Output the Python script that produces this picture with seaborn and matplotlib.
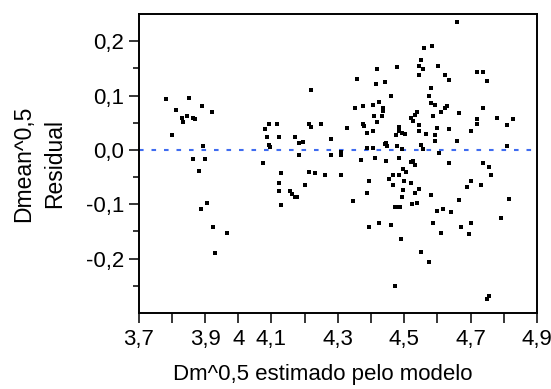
import matplotlib
matplotlib.use("Agg")
import matplotlib.pyplot as plt
import seaborn as sns
import pandas as pd
from matplotlib.ticker import FixedLocator, FixedFormatter

# ---- data ----
x_fit = [
    3.781, 3.799, 3.812, 3.829, 3.834, 3.847, 3.853, 3.865, 3.870, 3.865,
    3.883, 3.890, 3.895, 3.900, 3.889, 3.907, 3.920, 3.925, 3.931, 3.967,
    4.075, 4.082, 4.088, 4.093, 4.093, 4.096, 4.118, 4.123, 4.130, 4.124,
    4.124, 4.130, 4.155, 4.161, 4.171, 4.178, 4.172, 4.183, 4.195, 4.184,
    4.201, 4.214, 4.214, 4.220, 4.220, 4.231, 4.250, 4.262, 4.280, 4.280,
    4.310, 4.311, 4.310, 4.328,
    4.347, 4.352, 4.358, 4.370, 4.377, 4.377, 4.379, 4.388, 4.389, 4.389,
    4.394, 4.394, 4.406, 4.407, 4.407, 4.410, 4.413, 4.414, 4.419, 4.419,
    4.424, 4.425, 4.432, 4.435, 4.436, 4.442, 4.445, 4.443, 4.444, 4.448,
    4.455, 4.460, 4.461, 4.467, 4.467, 4.472, 4.472, 4.476, 4.479, 4.479,
    4.480, 4.484, 4.484, 4.485, 4.492, 4.486, 4.485, 4.491, 4.492, 4.497,
    4.499, 4.494, 4.497, 4.502, 4.506, 4.521, 4.519, 4.520, 4.524, 4.527,
    4.532, 4.538, 4.527, 4.531, 4.533, 4.539, 4.543, 4.545, 4.545, 4.543,
    4.551, 4.545, 4.551, 4.556, 4.550, 4.557, 4.560, 4.566,
    4.575, 4.575, 4.580, 4.581, 4.583, 4.581, 4.587, 4.588, 4.593, 4.593,
    4.593, 4.599, 4.599, 4.603, 4.605, 4.611, 4.611, 4.617, 4.623, 4.623,
    4.629, 4.634, 4.636, 4.636, 4.641, 4.659, 4.660, 4.666, 4.666, 4.672,
    4.690, 4.695, 4.702, 4.702, 4.702, 4.719, 4.719, 4.720, 4.732, 4.737,
    4.738, 4.738, 4.748, 4.750, 4.755, 4.756, 4.762, 4.780, 4.792, 4.810,
    4.810, 4.816, 4.827,
]
residual = [
    0.093, 0.027, 0.074, 0.059, 0.052, 0.063, 0.096, 0.059, 0.056, -0.017,
    -0.039, 0.081, 0.008, -0.017, -0.109, -0.097, 0.070, -0.141, -0.189, -0.152,
    -0.024, 0.038, 0.023, 0.048, 0.009, 0.006, 0.048, 0.023, -0.042, -0.061,
    -0.076, -0.101, -0.076, -0.082, -0.086, -0.087, 0.023, 0.012, 0.015, -0.010,
    -0.065, 0.048, -0.040, 0.111, 0.042, -0.043, 0.048, -0.046, 0.020, -0.010,
    -0.003, -0.010, -0.047, 0.041,
    -0.094, 0.077, 0.130, -0.018, 0.081, 0.048, 0.044, -0.080, 0.031, 0.004,
    -0.058, -0.142, 0.004, 0.035, 0.083, 0.063, -0.014, 0.122, 0.148, 0.052,
    0.088, -0.134, 0.063, 0.078, 0.071, 0.010, 0.013, 0.125, -0.021, 0.008,
    -0.054, -0.138, 0.100, -0.046, -0.065, -0.251, -0.105, 0.028, 0.152, 0.008,
    -0.105, 0.043, -0.046, -0.014, -0.086, -0.105, 0.034, -0.164, 0.002, -0.073,
    -0.057, 0.032, -0.036, 0.030, -0.041, -0.061, 0.059, -0.023, -0.100, 0.053,
    0.064, 0.069, -0.021, -0.027, -0.079, -0.097, -0.071, 0.045, 0.034, 0.155,
    0.009, 0.138, -0.188, 0.002, 0.165, 0.148, 0.187, 0.029,
    -0.206, 0.100, 0.114, 0.087, 0.191, -0.083, 0.063, -0.134, 0.082, 0.016,
    0.027, 0.041, -0.112, 0.155, -0.006, -0.152, 0.070, -0.108, 0.137, 0.078,
    0.081, 0.129, 0.038, -0.024, -0.115, 0.235, 0.016, 0.067, -0.093, -0.141,
    -0.068, -0.155, 0.034, -0.057, -0.134, 0.143, 0.048, 0.056, -0.064, 0.143,
    0.078, -0.024, 0.126, -0.275, -0.268, -0.031, -0.046, 0.059, -0.126, 0.008,
    0.045, -0.090, 0.056,
]

x_ticks = [3.7, 3.8, 3.9, 4.0, 4.1, 4.2, 4.3, 4.4, 4.5, 4.6, 4.7, 4.8, 4.9]
x_tick_labels = ["3,7", "", "3,9", "4", "4,1", "", "4,3", "", "4,5", "", "4,7", "", "4,9"]
y_ticks = [-0.2, -0.1, 0.0, 0.1, 0.2]
y_tick_labels = ["-0,2", "-0,1", "0,0", "0,1", "0,2"]
y_minor_ticks = [-0.25, -0.15, -0.05, 0.05, 0.15]
ref_level = 0.0

x_label = "Dm^0,5 estimado pelo modelo"
y_label = "Dmean^0,5\nResidual"

# ---- plot ----
sns.set_style("ticks")
plt.rcParams["font.family"] = ["Liberation Sans", "DejaVu Sans"]

df = pd.DataFrame({"x": x_fit, "y": residual})

fig = plt.figure(figsize=(5.51, 3.89), dpi=100)
ax = fig.add_axes([0.2517, 0.1954, 0.7229, 0.7686])

ax.axhline(ref_level, color="#3f6cf0", lw=1.5, dashes=(2.2, 3.8), zorder=1)
sns.scatterplot(data=df, x="x", y="y", ax=ax, marker="s", s=10,
                color="black", linewidth=0, zorder=3)

ax.set_xlim(3.7, 4.9)
ax.set_ylim(-0.30, 0.25)

ax.xaxis.set_major_locator(FixedLocator(x_ticks))
ax.xaxis.set_major_formatter(FixedFormatter(x_tick_labels))
ax.yaxis.set_major_locator(FixedLocator(y_ticks))
ax.yaxis.set_major_formatter(FixedFormatter(y_tick_labels))
ax.yaxis.set_minor_locator(FixedLocator(y_minor_ticks))

for s in ax.spines.values():
    s.set_visible(True)
    s.set_color("black")
    s.set_linewidth(1.4)

ax.tick_params(axis="x", which="major", length=7.2, width=1.1, color="black",
               labelsize=16, pad=4, labelcolor="black")
ax.tick_params(axis="y", which="major", length=7.5, width=1.1, color="black",
               labelsize=16, pad=3, labelcolor="black")
ax.tick_params(axis="y", which="minor", length=4, width=1.1, color="black")

ax.set_xlabel(x_label, fontsize=16, color="black")
ax.xaxis.set_label_coords(0.463, -0.205)
ax.xaxis.label.set_va("center")
ax.set_ylabel(y_label, fontsize=16.5, color="black", linespacing=1.4)
ax.yaxis.label.set_va("center")
ax.yaxis.set_label_coords(-0.25, 0.5)

ax.grid(False)
fig.savefig("out.png", dpi=100)
